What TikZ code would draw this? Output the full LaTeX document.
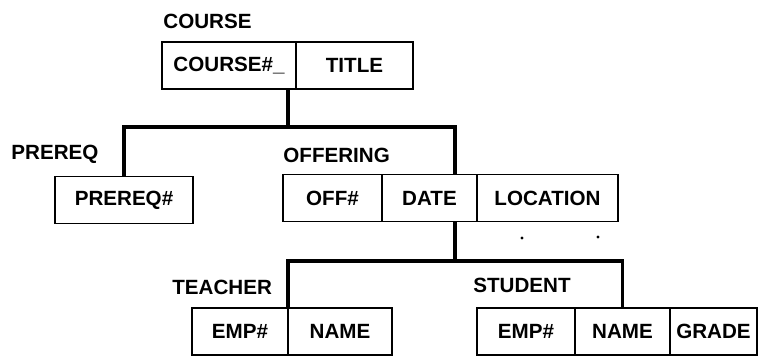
\documentclass[tikz,border=0pt]{standalone}
\usepackage{fontspec}
\setmainfont{Liberation Sans}
\usetikzlibrary{positioning}
\tikzset{
cell/.style={draw,line width=0.8pt,outer sep=0pt,inner sep=0pt,
minimum height=23.5pt,font=\fontsize{10.3}{12}\selectfont\bfseries},
entity/.style={anchor=west,inner sep=0pt,font=\fontsize{10.3}{12}\selectfont\bfseries},
branch/.style={line width=1.6pt},
speck/.style={fill=black},
}
\begin{document}
\begin{tikzpicture}[x=0.5pt,y=-0.5pt]
\useasboundingbox (0,0) rectangle (759,358);
                % course
                \node[entity] (course) at (163,21) {COURSE};
                \node[cell,minimum width=67pt,anchor=west] (course1) at (162,65.5) {COURSE\#\_};
                \node[cell,minimum width=58.5pt] (course2) [right=0pt of course1] {TITLE};
                % prereq
                \node[entity] (prereq label) at (11,154) {PREREQ};
                \node[cell,minimum width=69pt,anchor=west] (prereq) at (55,200) {PREREQ\#};
                % offering
                \node[entity] (offering) at (283,155) {OFFERING};
                \node[cell,minimum width=49.5pt,anchor=west] (off1) at (283,198) {OFF\#};
                \node[cell,minimum width=47.5pt] (off2) [right=0pt of off1] {DATE};
                \node[cell,minimum width=70.5pt] (off3) [right=0pt of off2] {LOCATION};
                % teacher
                \node[entity] (teacher) at (172,287) {TEACHER};
                \node[cell,minimum width=48pt,anchor=west] (teach1) at (192,331.5) {EMP\#};
                \node[cell,minimum width=52pt] (teach2) [right=0pt of teach1] {NAME};
                % student
                \node[entity] (student) at (473,285) {STUDENT};
                \node[cell,minimum width=49pt,anchor=west] (stud1) at (477,331.5) {EMP\#};
                \node[cell,minimum width=47.5pt] (stud2) [right=0pt of stud1] {NAME};
                \node[cell,minimum width=43.5pt] (stud3) [right=0pt of stud2] {GRADE};

                \coordinate (top fork) at (288,127);
                \coordinate (low fork) at (455,261);
                \draw[branch] ([xshift=-4pt]course1.south east) -- (top fork);
                \draw[branch] (prereq.north) |- (top fork) -| ([xshift=-11pt]off2.north east);
                \draw[branch] ([xshift=-11pt]off2.south east) -- (low fork);
                \draw[branch] (teach1.north east) |- (low fork) -| (stud2.north);
                \fill[speck] (522,238) circle (0.8pt);
                \fill[speck] (598,237) circle (0.8pt);
            \end{tikzpicture}
\end{document}
